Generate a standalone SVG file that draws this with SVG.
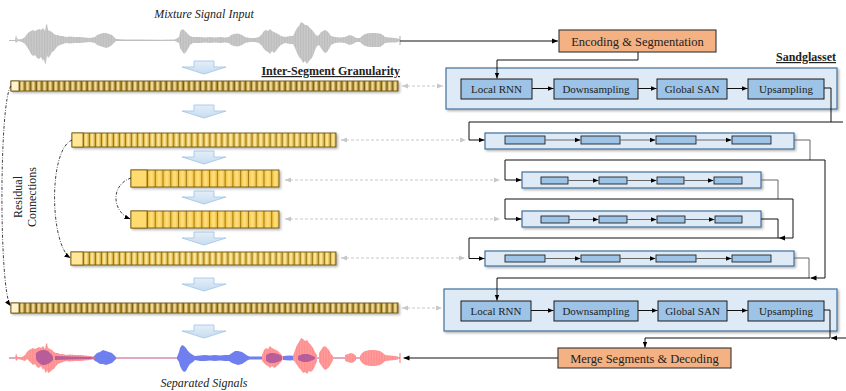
<svg xmlns="http://www.w3.org/2000/svg" width="846" height="391" viewBox="0 0 846 391">
<style>
.t{font-family:"Liberation Serif","Times New Roman",serif;fill:#222;}
.it{font-style:italic;font-size:12px;}
.lbl{font-size:11px;text-anchor:middle;}
.big{font-size:12.5px;text-anchor:middle;}
.hd{font-size:12px;font-weight:bold;text-decoration:underline;}
.cont{fill:#DEEBF7;stroke:#41719C;stroke-width:1.2;filter:url(#sh);}
.ib{fill:#9DC3E6;stroke:#1a1a1a;stroke-width:1;}
.sb{fill:#9DC3E6;stroke:#222;stroke-width:0.9;}
.org{fill:#F4B183;stroke:#333;stroke-width:1.1;}
.ln{fill:none;stroke:#111;stroke-width:1;}
.lg{fill:none;stroke:#666;stroke-width:1;}
.dash{fill:none;stroke:#C8C8C8;stroke-width:1;stroke-dasharray:3 2;}
.res{fill:none;stroke:#111;stroke-width:0.8;stroke-dasharray:3 1.5 0.8 1.5;}
.arr{fill:url(#ga);stroke:#9DC3E6;stroke-width:0.8;}
.bar{stroke:#6B5410;stroke-width:0.9;filter:url(#sh);}
</style>
<defs>
<filter id="sh" x="-5%" y="-20%" width="110%" height="160%"><feDropShadow dx="1.5" dy="1.5" stdDeviation="1" flood-color="#000" flood-opacity="0.3"/></filter>
<marker id="ah" viewBox="0 0 10 10" refX="10" refY="5" markerWidth="6" markerHeight="6" orient="auto" markerUnits="userSpaceOnUse"><path d="M0,1 L10,5 L0,9 z" fill="#000"/></marker>
<marker id="ahg" viewBox="0 0 10 10" refX="10" refY="5" markerWidth="6" markerHeight="6" orient="auto-start-reverse" markerUnits="userSpaceOnUse"><path d="M0,1 L10,5 L0,9 z" fill="#C8C8C8"/></marker>
<linearGradient id="ga" x1="0" y1="0" x2="0" y2="1"><stop offset="0" stop-color="#E4EEF8"/><stop offset="1" stop-color="#C6DCF0"/></linearGradient>
<linearGradient id="g0" x1="0" y1="0" x2="1" y2="0"><stop offset="0" stop-color="#7A5C10"/><stop offset="0.25" stop-color="#C9AA50"/><stop offset="0.5" stop-color="#FFF0BC"/><stop offset="0.75" stop-color="#CDB060"/><stop offset="1" stop-color="#8E6E18"/></linearGradient>
<linearGradient id="g1" x1="0" y1="0" x2="1" y2="0"><stop offset="0" stop-color="#B8901E"/><stop offset="0.3" stop-color="#F6D368"/><stop offset="0.55" stop-color="#FFEFB0"/><stop offset="1" stop-color="#C9A030"/></linearGradient>
<linearGradient id="g2" x1="0" y1="0" x2="1" y2="0"><stop offset="0" stop-color="#E8B830"/><stop offset="0.4" stop-color="#FFD966"/><stop offset="0.6" stop-color="#FFE08A"/><stop offset="1" stop-color="#F0C040"/></linearGradient>
<pattern id="p0" patternUnits="userSpaceOnUse" x="19" y="0" width="5.657" height="400"><rect width="5.657" height="400" fill="url(#g0)"/><line x1="0.3" y1="0" x2="0.3" y2="400" stroke="#5E470C" stroke-width="0.6"/></pattern>
<pattern id="p1" patternUnits="userSpaceOnUse" x="83" y="0" width="6.024" height="400"><rect width="6.024" height="400" fill="url(#g1)"/><line x1="0.3" y1="0" x2="0.3" y2="400" stroke="#7F6000" stroke-width="0.7"/></pattern>
<pattern id="p2" patternUnits="userSpaceOnUse" x="147" y="0" width="7.765" height="400"><rect width="7.765" height="400" fill="url(#g2)"/><line x1="0.4" y1="0" x2="0.4" y2="400" stroke="#7F6000" stroke-width="0.8"/></pattern>
<pattern id="pw" patternUnits="userSpaceOnUse" x="0" y="0" width="1.6" height="400"><rect width="1.6" height="400" fill="#C9C9C9"/><rect x="1" width="0.6" height="400" fill="#B9B9B9"/></pattern>
<pattern id="pr" patternUnits="userSpaceOnUse" x="0" y="0" width="1.6" height="400"><rect width="1.6" height="400" fill="#FF8C8C"/><rect x="1" width="0.6" height="400" fill="#FFA3A3"/></pattern>
<polygon id="bda" points="194,0 214,0 214,6 226,6 204,13 182,6 194,6"/>
</defs>

<!-- input waveform -->
<g id="mixture-input">
<text class="t it" x="204" y="18" text-anchor="middle">Mixture Signal Input</text>
<g transform="translate(0,1)">
<line x1="9" y1="39.5" x2="400" y2="39.5" stroke="#BBB" stroke-width="1"/>
<path fill="url(#pw)" d="M9,39.5 15,39 16,34 17,37 18,38.5 22,38 25,36 27,33 29,31 31,30 33,29 35,30 37,29 39,28 41,29 43,27 45,30 46,24 47,23 48,29 50,30 52,31 54,33 56,34 58,34 60,35 63,35 66,36 70,35.5 75,36 80,36 85,36.5 90,37 95,36 97,34 100,33 103,32 106,32 109,33 112,34 114,36 116,38 125,38.5 140,38.5 160,38.7 175,38.5 179,36 180,31 182,28 184,29 186,31 188,33 190,35 193,36 200,36 205,36.5 210,36 215,36.5 220,36 225,36.5 229,36 231,34 234,33 238,32.5 242,34 245,36 250,37 255,37 259,36 262,33 264,30 266,29 268,30 270,28 272,30 274,31 276,32 278,33 281,35 285,36 290,35 293,35 295,31 297,27 299,25 301,21 303,22 305,24 307,24 309,26 311,28 313,30 315,33 317,35 319,34 321,31 323,30 325,29 327,30 329,32 331,35 335,36 340,36.5 345,36 347,35 350,34 353,35 356,37 360,37 362,35 365,33 370,32 375,32 380,32.5 383,34 385,36 390,36.5 395,37 398,37.5 400,38.5 400,40 398,41 395,41.5 390,41.5 385,42 383,44 380,46 375,46 370,46 365,45 362,43 360,41 356,41 353,43 350,44 347,43 345,42 340,41.5 335,42 331,44 329,48 327,51 325,52 323,50 321,47 319,44 317,45 315,49 313,55 311,58 309,60 307,63 305,60 303,62 301,58 299,56 297,52 295,47 293,43 290,43 285,42 281,44 278,47 276,50 274,52 272,50 270,53 268,51 266,50 264,48 262,45 259,42 255,41 250,41 245,42 242,44 238,45.5 234,45 231,44 229,42 225,41.5 220,42 215,41.5 210,42 205,41.5 200,42 193,42 190,44 188,48 186,51 184,53 182,50 180,47 179,42 175,40 160,39.5 140,39.5 125,39.5 116,40 114,42 112,44 109,46 106,47 103,46 100,45 97,44 95,42 90,41 85,41.5 80,42 75,42 70,42.5 66,42 63,43 60,44 58,45 56,47 54,50 52,51 50,55 48,57 47,54 46,62 45,63 44,58 43,60 41,56 39,58 37,57 35,54 33,55 31,53 29,49 27,46 25,43 22,41 18,40 17,41 16,42 15,40 Z"/>
<line x1="400" y1="35" x2="400" y2="44" stroke="#AAA" stroke-width="1"/>
</g>
</g>

<!-- down block arrows -->
<g id="down-arrows" class="arr">
<use href="#bda" transform="translate(0,61)"/>
<use href="#bda" transform="translate(0,105)"/>
<use href="#bda" transform="translate(0,151)"/>
<use href="#bda" transform="translate(0,191)"/>
<use href="#bda" transform="translate(0,232)"/>
<use href="#bda" transform="translate(0,278)"/>
<use href="#bda" transform="translate(0,325)"/>
</g>

<text class="t hd" x="400" y="75" text-anchor="end">Inter-Segment Granularity</text>
<text class="t hd" x="836" y="61" text-anchor="end">Sandglasset</text>

<!-- bars -->
<g id="bar0"><rect class="bar" x="11" y="81" width="387" height="10" fill="url(#p0)"/><rect x="11" y="81" width="8" height="10" fill="#FFF2CC" stroke="#6B5410" stroke-width="0.8"/></g>
<g id="bar1"><rect class="bar" x="72" y="133" width="264" height="14" fill="url(#p1)"/><rect x="72" y="133" width="11" height="14" fill="#FFE699" stroke="#7F6000" stroke-width="0.8"/></g>
<g id="bar2"><rect class="bar" x="131" y="170" width="148" height="17" fill="url(#p2)"/><rect x="131" y="170" width="16" height="17" fill="#FFDB70" stroke="#7F6000" stroke-width="0.8"/></g>
<g id="bar3"><rect class="bar" x="131" y="211" width="148" height="17" fill="url(#p2)"/><rect x="131" y="211" width="16" height="17" fill="#FFDB70" stroke="#7F6000" stroke-width="0.8"/></g>
<g id="bar4"><rect class="bar" x="71" y="252" width="265" height="13" fill="url(#p1)"/><rect x="71" y="252" width="12" height="13" fill="#FFE699" stroke="#7F6000" stroke-width="0.8"/></g>
<g id="bar5"><rect class="bar" x="11" y="303" width="387" height="10" fill="url(#p0)"/><rect x="11" y="303" width="8" height="10" fill="#FFF2CC" stroke="#6B5410" stroke-width="0.8"/></g>

<g id="residual-label">
<text class="t" font-size="12" text-anchor="middle" transform="translate(22,197) rotate(-90)">Residual</text>
<text class="t" font-size="12" text-anchor="middle" transform="translate(36,197) rotate(-90)">Connections</text>
</g>

<!-- separated signals -->
<g id="separated-output">
<line x1="9" y1="358" x2="400" y2="358" stroke="#C0508A" stroke-width="1"/>
<g fill="#6F7FF0">
<path d="M93,357 95,355 97,353 100,352 103,350 106,351 109,352 112,353 114,355 116,357 116,359 114,361 112,363 109,364 106,365 103,364 100,364 97,362 95,361 93,359Z"/>
<path d="M177,357 179,352 180,348 182,345 184,346 186,348 188,351 190,353 193,355 195,356 200,355.5 205,355 210,355.5 215,355 220,355.5 225,355 229,355 232,353 235,351 238,351 242,352 245,354 248,356 250,356.5 256,356.5 262,356.5 262,359.5 256,359.5 250,359.5 248,360 245,362 242,364 238,365 235,364 232,363 229,361 225,361 220,360.5 215,361 210,360.5 205,361 200,361 195,360 193,362 190,364 188,367 186,371 184,372 182,370 180,366 179,362 177,359Z"/>
<path d="M283,356 290,355.5 295,356 295,360 290,360.5 283,360Z"/>
</g>
<g fill="url(#pr)">
<path d="M15,358 16,353 17,356 18,357.5 22,357 25,355 27,352 29,350 31,349 33,348 35,349 37,348 39,347 41,348 43,346 45,349 46,344 47,343 48,348 50,349 52,350 54,352 56,353 58,353 60,354 63,354 66,355 70,354.5 75,355 80,355 85,355.5 90,356 95,357 95,359 90,360 85,360.5 80,361 75,361 70,361.5 66,361 63,362 60,363 58,364 56,366 54,369 52,370 50,372 48,373 47,370 46,373 45,372 44,368 43,370 41,366 39,368 37,367 35,364 33,365 31,363 29,361 27,359 25,361 22,360 18,359 17,360 16,361Z"/>
<path d="M262,355 264,350 266,348 268,349 270,346 272,348 274,349 276,350 278,351 281,354 283,357 283,359 281,362 278,365 276,367 274,368 272,366 270,368 268,366 266,365 264,363 262,361Z"/>
<path d="M293,356 295,350 297,345 299,342 301,338 303,339 305,341 307,340 309,343 311,345 313,348 315,352 317,355 317,361 315,366 313,370 311,372 309,371 307,374 305,372 303,373 301,370 299,368 297,365 295,362 293,360Z"/>
<path d="M319,353 321,350 323,347 325,346 327,348 329,350 331,354 333,356 333,360 331,364 329,367 327,369 325,370 323,368 321,365 319,362Z"/>
<path d="M345,355 348,354 351,353 354,354 356,356 356,360 354,362 351,363 348,362 345,361Z"/>
<path d="M360,356 362,353 365,351 370,350 375,350 380,351 383,353 385,355 390,355.5 395,356 398,356.5 398,359.5 395,360 390,360.5 385,361 383,363 380,365 375,366 370,366 365,365 362,363 360,360Z"/>
</g>
<g fill="#B0589A" fill-opacity="0.9">
<path d="M36,353 39,351 42,350 45,350 48,351 50,353 52,355 53,357 53,360 51,362 48,364 45,365 42,365 39,363 37,361 36,359Z"/>
<path d="M55,356 70,356.5 90,357 95,357.5 95,358.5 90,359 70,359.5 55,360Z"/>
<path d="M266,355 270,353 274,353 278,354 282,356 282,360 278,362 274,363 270,363 266,361Z"/>
<path d="M298,356 303,354 308,354 313,356 315,357 315,359 313,360 308,362 303,362 298,360Z"/>
</g>
<line x1="400" y1="353" x2="400" y2="363" stroke="#FF7070" stroke-width="1"/>
<text class="t it" x="204" y="387" text-anchor="middle">Separated Signals</text>
</g>

<!-- nodes right -->
<g id="encoding"><rect class="org" x="559" y="30" width="157" height="22"/><text class="t big" x="637.5" y="45.5">Encoding &amp; Segmentation</text></g>

<g id="sandglass-top">
<rect class="cont" x="446" y="68" width="391" height="41"/>
<rect class="ib" x="461" y="79" width="71" height="20"/><text class="t lbl" x="496.5" y="92.5">Local RNN</text>
<rect class="ib" x="554" y="79" width="84" height="20"/><text class="t lbl" x="596" y="92.5">Downsampling</text>
<rect class="ib" x="657" y="79" width="70" height="20"/><text class="t lbl" x="692" y="92.5">Global SAN</text>
<rect class="ib" x="748" y="79" width="76" height="20"/><text class="t lbl" x="786" y="92.5">Upsampling</text>
</g>

<g id="level1">
<rect class="cont" x="485" y="133" width="309" height="16"/>
<rect class="sb" x="505" y="136" width="40" height="8"/><rect class="sb" x="581" y="136" width="39" height="8"/><rect class="sb" x="656" y="136" width="40" height="8"/><rect class="sb" x="732" y="136" width="39" height="8"/>
</g>
<g id="level2">
<rect class="cont" x="522" y="172" width="239" height="16"/>
<rect class="sb" x="541" y="177" width="27" height="7"/><rect class="sb" x="599" y="177" width="28" height="7"/><rect class="sb" x="657" y="177" width="27" height="7"/><rect class="sb" x="714" y="177" width="28" height="7"/>
</g>
<g id="level3">
<rect class="cont" x="522" y="211" width="239" height="16"/>
<rect class="sb" x="541" y="216" width="28" height="7"/><rect class="sb" x="599" y="216" width="28" height="7"/><rect class="sb" x="657" y="216" width="28" height="7"/><rect class="sb" x="715" y="216" width="27" height="7"/>
</g>
<g id="level4">
<rect class="cont" x="485" y="251" width="309" height="15"/>
<rect class="sb" x="505" y="255" width="40" height="7"/><rect class="sb" x="581" y="255" width="39" height="7"/><rect class="sb" x="656" y="255" width="40" height="7"/><rect class="sb" x="732" y="255" width="39" height="7"/>
</g>

<g id="sandglass-bottom">
<rect class="cont" x="444" y="289" width="393" height="42"/>
<rect class="ib" x="461" y="301" width="70" height="20"/><text class="t lbl" x="496" y="314.5">Local RNN</text>
<rect class="ib" x="554" y="301" width="84" height="20"/><text class="t lbl" x="596" y="314.5">Downsampling</text>
<rect class="ib" x="658" y="301" width="69" height="20"/><text class="t lbl" x="692.5" y="314.5">Global SAN</text>
<rect class="ib" x="748" y="301" width="76" height="20"/><text class="t lbl" x="786" y="314.5">Upsampling</text>
</g>

<g id="merge"><rect class="org" x="558" y="348" width="173" height="20"/><text class="t big" x="644.5" y="362.5">Merge Segments &amp; Decoding</text></g>

<!-- connectors -->
<g id="connectors">
<path class="ln" d="M400,41 H558" marker-end="url(#ah)"/>
<path class="ln" d="M638,52 V60 H497 V78.5" marker-end="url(#ah)"/>
<path class="ln" d="M532,88.5 H553.5" marker-end="url(#ah)"/>
<path class="ln" d="M638,88.5 H656.5" marker-end="url(#ah)"/>
<path class="ln" d="M727,88.5 H747.5" marker-end="url(#ah)"/>
<path class="ln" d="M824,88 H831 V122"/>
<path class="ln" d="M843,122 H469 V140 H484.5" marker-end="url(#ah)"/>

<path class="lg" d="M545,140 H580.5" marker-end="url(#ah)"/>
<path class="lg" d="M620,140 H655.5" marker-end="url(#ah)"/>
<path class="lg" d="M696,140 H731.5" marker-end="url(#ah)"/>
<path class="lg" d="M794,140 H810 V160"/>
<path class="ln" d="M825,160 H505 V180 H521.5" marker-end="url(#ah)"/>
<path class="ln" d="M825,160 V278 H810.5" marker-end="url(#ah)"/>

<path class="lg" d="M568,180.5 H598.5" marker-end="url(#ah)"/>
<path class="lg" d="M627,180.5 H656.5" marker-end="url(#ah)"/>
<path class="lg" d="M684,180.5 H713.5" marker-end="url(#ah)"/>
<path class="lg" d="M761,180 H778 V199"/>
<path class="ln" d="M793,199 H505 V219 H521.5" marker-end="url(#ah)"/>
<path class="ln" d="M793,199 V238 H779" marker-end="url(#ah)"/>

<path class="lg" d="M569,219.5 H598.5" marker-end="url(#ah)"/>
<path class="lg" d="M627,219.5 H656.5" marker-end="url(#ah)"/>
<path class="lg" d="M685,219.5 H714.5" marker-end="url(#ah)"/>
<path class="ln" d="M761,219 H778 V238"/>
<path class="ln" d="M779,238 H469 V258.5 H484.5" marker-end="url(#ah)"/>

<path class="lg" d="M545,258.5 H580.5" marker-end="url(#ah)"/>
<path class="lg" d="M620,258.5 H655.5" marker-end="url(#ah)"/>
<path class="lg" d="M696,258.5 H731.5" marker-end="url(#ah)"/>
<path class="lg" d="M794,258 H809 V278"/>
<path class="ln" d="M810,278 H497 V300.5" marker-end="url(#ah)"/>

<path class="ln" d="M531,310.5 H553.5" marker-end="url(#ah)"/>
<path class="ln" d="M638,310.5 H657.5" marker-end="url(#ah)"/>
<path class="ln" d="M727,310.5 H747.5" marker-end="url(#ah)"/>
<path class="ln" d="M824,310 H830 V338"/>
<path class="ln" d="M846,338 H831" marker-end="url(#ah)"/>
<path class="ln" d="M830,338 H645 V347.5" marker-end="url(#ah)"/>
<path class="ln" d="M558,358 H403.5" marker-end="url(#ah)"/>

<path class="dash" d="M402,86 H443" marker-start="url(#ahg)" marker-end="url(#ahg)"/>
<path class="dash" d="M341,140 H466" marker-start="url(#ahg)" marker-end="url(#ahg)"/>
<path class="dash" d="M285,180 H500" marker-start="url(#ahg)" marker-end="url(#ahg)"/>
<path class="dash" d="M285,219 H500" marker-start="url(#ahg)" marker-end="url(#ahg)"/>
<path class="dash" d="M341,258 H465" marker-start="url(#ahg)" marker-end="url(#ahg)"/>
<path class="dash" d="M402,308 H442" marker-start="url(#ahg)" marker-end="url(#ahg)"/>

<path class="res" d="M11,86 C-1,100 -1,290 10.5,306" marker-end="url(#ah)"/>
<path class="res" d="M72,140 C48,150 50,245 70.5,258" marker-end="url(#ah)"/>
<path class="res" d="M131,178 C110,185 112,212 130.5,219" marker-end="url(#ah)"/>
</g>
</svg>
